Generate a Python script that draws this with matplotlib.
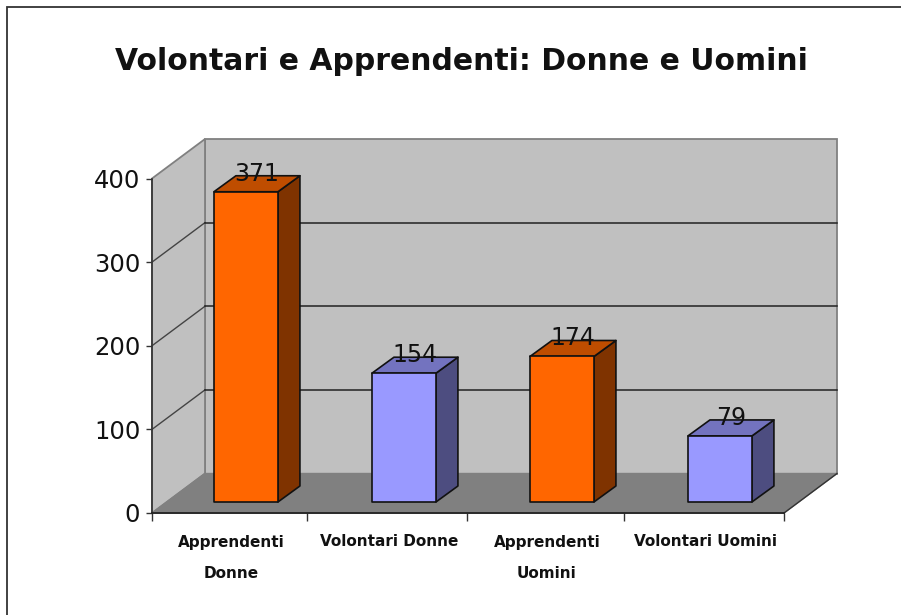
import matplotlib
matplotlib.use("Agg")
import matplotlib.pyplot as plt
from matplotlib.patches import Polygon, Rectangle

title = "Volontari e Apprendenti: Donne e Uomini"
categories = ["Apprendenti\nDonne", "Volontari Donne", "Apprendenti\nUomini", "Volontari Uomini"]
values = [371, 154, 174, 79]
yticks = [0, 100, 200, 300, 400]
front_colors = ["#FF6600", "#9999FF", "#FF6600", "#9999FF"]
top_colors = ["#BF4D00", "#7373BF", "#BF4D00", "#7373BF"]
side_colors = ["#7F3300", "#4D4D80", "#7F3300", "#4D4D80"]

W, H = 901, 615
Y0, YTOP = 513, 178.5
fig = plt.figure(figsize=(W / 100, H / 100), dpi=100, facecolor="white")
fig.add_artist(Rectangle((7 / W, -0.01), 1.01, 1 - 7 / H + 0.01, transform=fig.transFigure,
                         fill=False, ec="#333333", lw=1.3))

ax = fig.add_axes([152 / W, 1 - Y0 / H, 632 / W, (Y0 - YTOP) / H])
ax.set_xlim(0, 4)
ax.set_ylim(0, 400)
ax.patch.set_visible(False)
for s in ax.spines.values():
    s.set_visible(False)

px_x = 4 / 632
px_y = 400 / (Y0 - YTOP)
DX, DY = 53 * px_x, 39.5 * px_y
ymax = yticks[-1]

# walls and floor
ax.add_patch(Polygon([(DX, DY), (4 + DX, DY), (4 + DX, ymax + DY), (DX, ymax + DY)],
                     fc="#C0C0C0", ec="#808080", lw=1.3, clip_on=False, zorder=1))
ax.add_patch(Polygon([(0, 0), (DX, DY), (DX, ymax + DY), (0, ymax)],
                     fc="#C0C0C0", ec="#808080", lw=1.3, clip_on=False, zorder=1))
ax.add_patch(Polygon([(0, 0), (4, 0), (4 + DX, DY), (DX, DY)],
                     fc="#808080", ec="#808080", lw=1.0, clip_on=False, zorder=1))
ax.plot([4, 4 + DX], [0, DY], color="#333333", lw=1.0, clip_on=False, zorder=2)

# gridlines
for t in yticks[1:-1]:
    ax.plot([0, DX], [t, t + DY], color="#444444", lw=1.0, clip_on=False, zorder=2)
    ax.plot([DX, 4 + DX], [t + DY, t + DY], color="#222222", lw=1.1, clip_on=False, zorder=2)

# bars
bar_left, bar_w, base = 0.392, 0.405, 11 * px_y
bdx, bdy = 22 * px_x, 16 * px_y
for i, v in enumerate(values):
    x0 = i + bar_left
    x1 = x0 + bar_w
    top = base + v
    kw = dict(ec="#111111", lw=1.2, clip_on=False, zorder=3, joinstyle="round")
    ax.add_patch(Polygon([(x1, base), (x1 + bdx, base + bdy), (x1 + bdx, top + bdy), (x1, top)],
                         fc=side_colors[i], **kw))
    ax.add_patch(Polygon([(x0, top), (x1, top), (x1 + bdx, top + bdy), (x0 + bdx, top + bdy)],
                         fc=top_colors[i], **kw))
    ax.add_patch(Rectangle((x0, base), bar_w, v, fc=front_colors[i], **kw))
    ax.text((x0 + x1) / 2 + 11 * px_x, top + 18 * px_y, str(v), ha="center", va="center",
            fontsize=17, color="#111111", zorder=4, clip_on=False)

# axes
ax.plot([0, 0], [0, ymax], color="#333333", lw=1.2, clip_on=False, zorder=2)
ax.plot([0, 4], [0, 0], color="#222222", lw=1.3, clip_on=False, zorder=2)
ax.set_xticks([0, 0.981, 1.994, 2.987, 4])
ax.set_xticklabels([])
ax.set_yticks(yticks)
ax.tick_params(axis="x", length=5.5, width=1.0, color="#333333")
ax.tick_params(axis="y", length=4.5, width=1.0, color="#333333",
               labelsize=17.5, pad=4, labelcolor="#111111")

for i, c in enumerate(categories):
    for j, line in enumerate(c.split("\n")):
        ax.annotate(line, (i + 0.5, 0), xytext=(0, -(29 + 32 * j) * 0.72),
                    textcoords="offset points", ha="center", va="center",
                    fontsize=11, fontweight="bold", color="#111111")

fig.text(461 / W, 1 - 61 / H, title, ha="center", va="center", fontsize=21.5,
         fontweight="bold", color="#111111")

fig.savefig("out.png", dpi=100)
